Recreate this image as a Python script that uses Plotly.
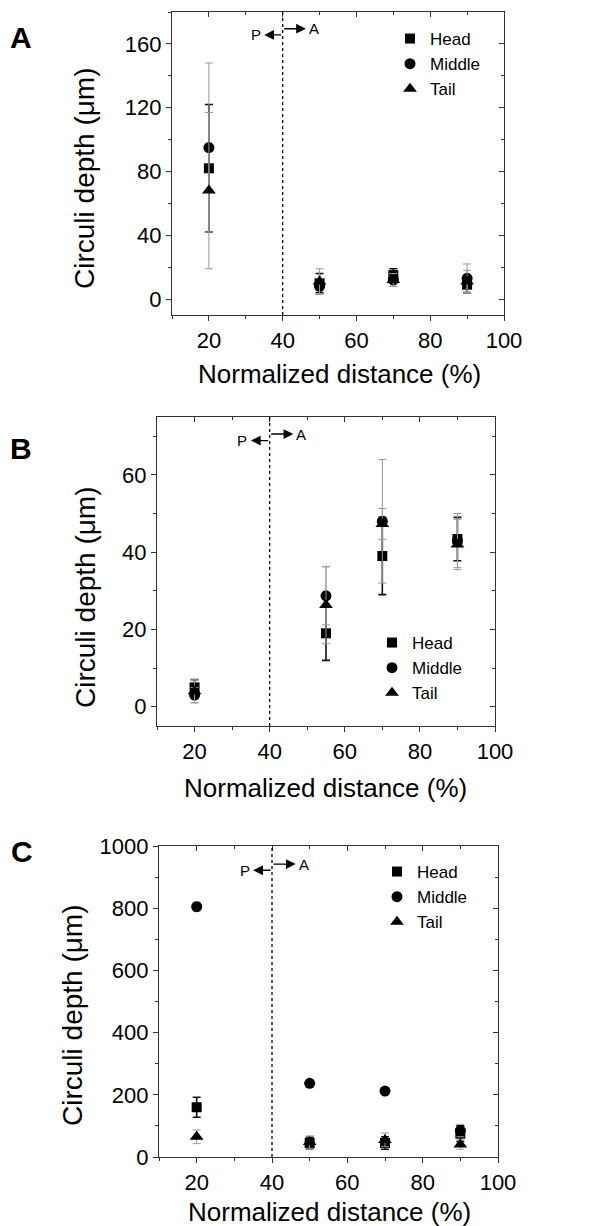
import plotly.graph_objects as go

# ---------------- data ----------------
series_names = ["Head", "Middle", "Tail"]

a_x = [20, 50, 70, 90]
a_head = [82, 10, 15, 9]
a_head_err = [40, 6, 4, 5]
a_middle = [95, 8, 12, 13]
a_middle_err = [53, 5, 4, 9]
a_tail = [68, 11, 12, 11]
a_tail_err = [49, 8, 4, 7]

b_x = [20, 55, 70, 90]
b_head = [5, 19, 39, 43.4]
b_head_err = [2, 7, 10, 5.6]
b_middle = [3, 28.7, 48, 43]
b_middle_err = [2, 7.5, 16, 7]
b_tail = [4, 26.3, 47.3, 42]
b_tail_err = [3, 10, 4, 6.5]

c_x = [20, 50, 70, 90]
c_head = [160, 45, 45, 75]
c_head_err = [32, 18, 20, 25]
c_middle = [805, 237, 212, 85]
c_middle_err = [15, 10, 10, 20]
c_tail = [65, 48, 55, 40]
c_tail_err = [22, 20, 22, 15]

boundary_x = 40
x_title = "Normalized distance (%)"
y_title = "Circuli depth (μm)"
panel_letters = ["A", "B", "C"]

# ---------------- styling / layout ----------------
PAGE_OFF = 8                      # default body margin of the html page
W, H = 591 - PAGE_OFF, 1226 - PAGE_OFF
FONT = "Liberation Sans, Arial, sans-serif"
AXC = "#333333"


def px_x(v):
    return (v - PAGE_OFF) / W


def px_y(v):
    return 1 - (v - PAGE_OFF) / H


# positions below are in window pixels
panels = [
    dict(x=a_x,
         ys=[(a_head, a_head_err), (a_middle, a_middle_err), (a_tail, a_tail_err)],
         px=(172, 504), py=(12, 315), yrange=[-10, 180], ydtick=40, yminor=20,
         arrow_y=(165.6, 169.5), legend_px=(390, 21),
         ytitle_px=(85, 178), xtitle_px=(339, 374), letter_px=(21, 37)),
    dict(x=b_x,
         ys=[(b_head, b_head_err), (b_middle, b_middle_err), (b_tail, b_tail_err)],
         px=(157, 495), py=(417, 726), yrange=[-5, 75], ydtick=20, yminor=10,
         arrow_y=(68.9, 70.6), legend_px=(372, 625),
         ytitle_px=(85, 597), xtitle_px=(325, 788), letter_px=(21, 448)),
    dict(x=c_x,
         ys=[(c_head, c_head_err), (c_middle, c_middle_err), (c_tail, c_tail_err)],
         px=(159, 498), py=(846, 1157), yrange=[0, 1000], ydtick=200, yminor=100,
         arrow_y=(922, 942), legend_px=(377, 854),
         ytitle_px=(72, 1015), xtitle_px=(329, 1212), letter_px=(22, 851)),
]

symbols = ["square", "circle", "triangle-up"]
msizes = [10, 11, 12]
err_colors = ["#111111", "#999999", "#999999"]
err_thick = [1.6, 1.0, 1.0]

fig = go.Figure()
layout = dict(template="none", width=W, height=H, margin=dict(l=0, r=0, t=0, b=0, pad=0),
              paper_bgcolor="white", plot_bgcolor="white",
              font=dict(family=FONT, color="black"), showlegend=True)
annotations = []
shapes = []

for i, p in enumerate(panels):
    k = i + 1
    kt = i + 4
    xs = "" if k == 1 else str(k)
    leg = "legend" if k == 1 else f"legend{k}"
    xdom = [px_x(p["px"][0]), px_x(p["px"][1])]
    ydom = [px_y(p["py"][1]), px_y(p["py"][0])]

    for j, name in enumerate(series_names):
        yv, ye = p["ys"][j]
        fig.add_trace(go.Scatter(
            x=p["x"], y=yv, mode="markers", name=name,
            marker=dict(symbol=symbols[j], size=msizes[j], color="black"),
            error_y=dict(type="data", array=ye, visible=True,
                         color=err_colors[j], thickness=err_thick[j], width=4),
            xaxis=f"x{xs}", yaxis=f"y{xs}", legend=leg,
        ))
    # hidden trace for mirrored axes (top / right)
    fig.add_trace(go.Scatter(x=[None], y=[None], xaxis=f"x{kt}", yaxis=f"y{kt}",
                             showlegend=False, hoverinfo="skip", mode="markers"))

    tickfont = dict(family=FONT, size=22, color="black")
    common = dict(showline=True, linecolor=AXC, linewidth=1.2, showgrid=False,
                  zeroline=False, automargin=False, tickcolor=AXC, tickwidth=1)
    layout[f"xaxis{xs}"] = dict(
        domain=xdom, anchor=f"y{xs}", range=[10, 100], dtick=20, tick0=0,
        ticks="outside", ticklen=5,
        minor=dict(dtick=10, tick0=0, ticks="outside", ticklen=3, tickcolor=AXC),
        tickfont=tickfont, **common,
    )
    layout[f"yaxis{xs}"] = dict(
        domain=ydom, anchor=f"x{xs}", range=p["yrange"], dtick=p["ydtick"], tick0=0,
        ticks="outside", ticklen=5,
        minor=dict(dtick=p["yminor"], tick0=0, ticks="outside", ticklen=3, tickcolor=AXC),
        tickfont=tickfont, **common,
    )
    layout[f"xaxis{kt}"] = dict(
        overlaying=f"x{xs}", anchor=f"y{xs}", side="top", range=[10, 100], dtick=20, tick0=0,
        ticks="inside", ticklen=5,
        minor=dict(dtick=10, tick0=0, ticks="inside", ticklen=3, tickcolor=AXC),
        showticklabels=False, **common,
    )
    layout[f"yaxis{kt}"] = dict(
        overlaying=f"y{xs}", anchor=f"x{xs}", side="right", range=p["yrange"],
        dtick=p["ydtick"], tick0=0,
        ticks="inside", ticklen=5,
        minor=dict(dtick=p["yminor"], tick0=0, ticks="inside", ticklen=3, tickcolor=AXC),
        showticklabels=False, **common,
    )
    layout[leg] = dict(
        x=px_x(p["legend_px"][0]), y=px_y(p["legend_px"][1]),
        xanchor="left", yanchor="top", bgcolor="rgba(0,0,0,0)", borderwidth=0,
        font=dict(family=FONT, size=17, color="black"),
        itemsizing="trace", tracegroupgap=0,
    )

    # axis titles
    annotations.append(dict(x=px_x(p["xtitle_px"][0]), y=px_y(p["xtitle_px"][1]),
                            xref="paper", yref="paper", text=x_title, showarrow=False,
                            xanchor="center", yanchor="middle",
                            font=dict(family=FONT, size=26, color="black")))
    annotations.append(dict(x=px_x(p["ytitle_px"][0]), y=px_y(p["ytitle_px"][1]),
                            xref="paper", yref="paper", text=y_title, showarrow=False,
                            textangle=-90, xanchor="center", yanchor="middle",
                            font=dict(family=FONT, size=28, color="black")))

    # P/A boundary
    shapes.append(dict(type="line", xref=f"x{xs}", yref=f"y{xs} domain",
                       x0=boundary_x, x1=boundary_x, y0=0, y1=1,
                       line=dict(color="black", width=1.3, dash="dot")))
    yp, ya = p["arrow_y"]
    annotations.append(dict(x=35, y=yp, ax=boundary_x, ay=yp, xref=f"x{xs}", yref=f"y{xs}",
                            axref=f"x{xs}", ayref=f"y{xs}", text="", showarrow=True,
                            arrowhead=2, arrowsize=1.5, arrowwidth=1.3, arrowcolor="black"))
    annotations.append(dict(x=46.3, y=ya, ax=boundary_x, ay=ya, xref=f"x{xs}", yref=f"y{xs}",
                            axref=f"x{xs}", ayref=f"y{xs}", text="", showarrow=True,
                            arrowhead=2, arrowsize=1.5, arrowwidth=1.3, arrowcolor="black"))
    annotations.append(dict(x=34.6, y=yp, xref=f"x{xs}", yref=f"y{xs}", text="P",
                            showarrow=False, xanchor="right", yanchor="middle",
                            font=dict(family=FONT, size=15, color="black")))
    annotations.append(dict(x=46.6, y=ya, xref=f"x{xs}", yref=f"y{xs}", text="A",
                            showarrow=False, xanchor="left", yanchor="middle",
                            font=dict(family=FONT, size=15, color="black")))
    # panel letter
    annotations.append(dict(x=px_x(p["letter_px"][0]), y=px_y(p["letter_px"][1]),
                            xref="paper", yref="paper", text=f"<b>{panel_letters[i]}</b>",
                            showarrow=False, xanchor="center", yanchor="middle",
                            font=dict(family=FONT, size=30, color="black")))

layout["annotations"] = annotations
layout["shapes"] = shapes
fig.update_layout(**layout)
fig.write_html("out.html")
